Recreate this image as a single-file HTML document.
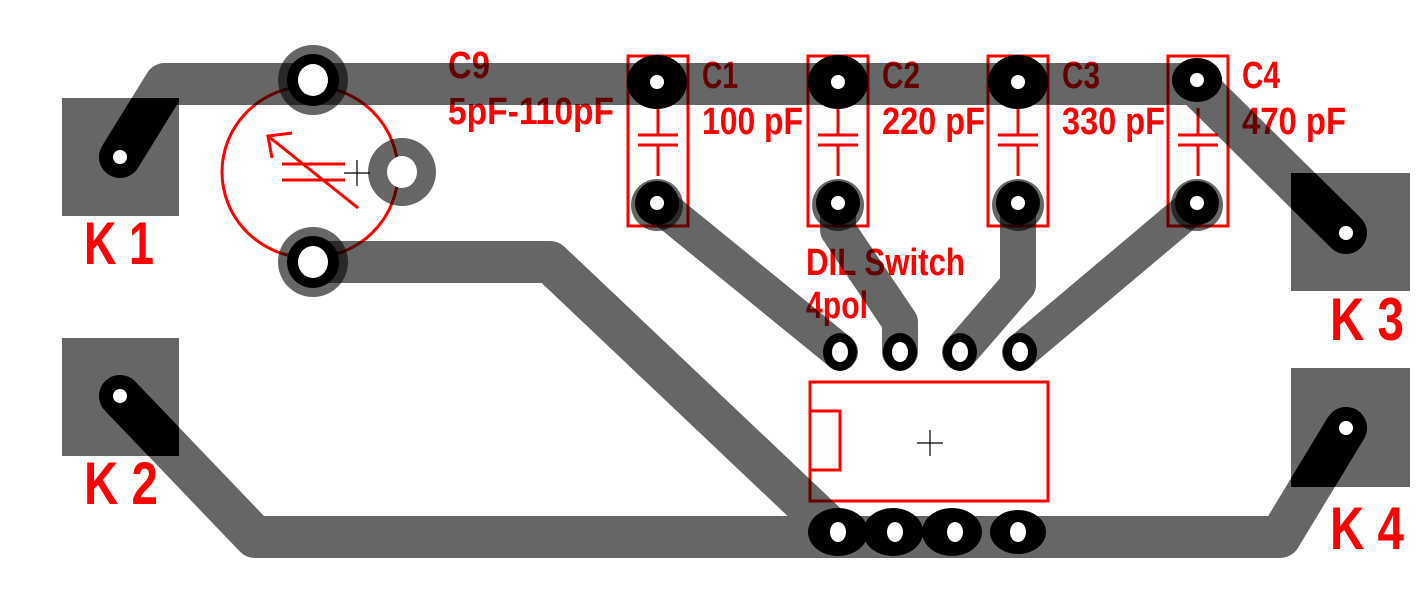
<!DOCTYPE html>
<html><head><meta charset="utf-8"><style>
html,body{margin:0;padding:0;background:#fff;}
svg{display:block}
.t{font-family:"Liberation Sans",sans-serif;font-weight:bold;fill:#f00;}
.cu{mix-blend-mode:multiply;}
</style></head><body>
<svg width="1417" height="591" viewBox="0 0 1417 591" xmlns="http://www.w3.org/2000/svg">
<defs>
<clipPath id="k1"><rect x="62" y="98" width="117" height="118"/></clipPath>
<clipPath id="k2"><rect x="62" y="338" width="117" height="118"/></clipPath>
<clipPath id="k3"><rect x="1291" y="173" width="119" height="118"/></clipPath>
<clipPath id="k4"><rect x="1291" y="368" width="119" height="119"/></clipPath>
</defs>
<!-- red silkscreen -->
<g fill="none" stroke="#f00" stroke-width="3">
<ellipse cx="310" cy="172" rx="88" ry="86"/>
<line x1="268" y1="136" x2="358" y2="208"/>
<polyline points="292,133 268,136 272,158"/>
<line x1="282" y1="164" x2="345" y2="164"/>
<line x1="282" y1="180" x2="345" y2="180"/>
<rect x="628" y="56" width="60" height="170"/>
<rect x="808" y="56" width="60" height="170"/>
<rect x="988" y="56" width="60" height="170"/>
<rect x="1168" y="56" width="60" height="170"/>
<g id="cap">
<line x1="658" y1="108" x2="658" y2="135"/><line x1="638" y1="135" x2="678" y2="135"/>
<line x1="638" y1="145" x2="678" y2="145"/><line x1="658" y1="145" x2="658" y2="176"/>
</g>
<use href="#cap" x="180"/><use href="#cap" x="360"/><use href="#cap" x="540"/>
<rect x="810" y="382" width="238" height="119"/>
<rect x="810" y="411" width="30" height="59"/>
</g>
<g stroke="#000" stroke-width="1.2">
<line x1="344" y1="173" x2="370" y2="173"/><line x1="357" y1="160" x2="357" y2="186"/>
<line x1="917" y1="443" x2="943" y2="443"/><line x1="930" y1="430" x2="930" y2="456"/>
</g>
<text class="t" x="448" y="78" font-size="38" textLength="42" lengthAdjust="spacingAndGlyphs">C9</text>
<text class="t" x="448" y="124" font-size="38" textLength="166" lengthAdjust="spacingAndGlyphs">5pF-110pF</text>
<text class="t" x="702" y="88" font-size="38" textLength="36" lengthAdjust="spacingAndGlyphs">C1</text>
<text class="t" x="702" y="134" font-size="38" textLength="101" lengthAdjust="spacingAndGlyphs">100 pF</text>
<text class="t" x="882" y="88" font-size="38" textLength="38" lengthAdjust="spacingAndGlyphs">C2</text>
<text class="t" x="882" y="134" font-size="38" textLength="103" lengthAdjust="spacingAndGlyphs">220 pF</text>
<text class="t" x="1062" y="88" font-size="38" textLength="38" lengthAdjust="spacingAndGlyphs">C3</text>
<text class="t" x="1062" y="134" font-size="38" textLength="103" lengthAdjust="spacingAndGlyphs">330 pF</text>
<text class="t" x="1242" y="88" font-size="38" textLength="38" lengthAdjust="spacingAndGlyphs">C4</text>
<text class="t" x="1242" y="134" font-size="38" textLength="104" lengthAdjust="spacingAndGlyphs">470 pF</text>
<text class="t" x="806" y="275" font-size="38" textLength="159" lengthAdjust="spacingAndGlyphs">DIL Switch</text>
<text class="t" x="806" y="318" font-size="38" textLength="62" lengthAdjust="spacingAndGlyphs">4pol</text>
<text class="t" x="84" y="264" font-size="60" textLength="70" lengthAdjust="spacingAndGlyphs">K 1</text>
<text class="t" x="84" y="504" font-size="60" textLength="74" lengthAdjust="spacingAndGlyphs">K 2</text>
<text class="t" x="1330" y="340" font-size="60" textLength="74" lengthAdjust="spacingAndGlyphs">K 3</text>
<text class="t" x="1330" y="549" font-size="60" textLength="74" lengthAdjust="spacingAndGlyphs">K 4</text>
<!-- copper -->
<g class="cu" fill="#666">
<rect x="62" y="98" width="117" height="118"/>
<rect x="62" y="338" width="117" height="118"/>
<rect x="1291" y="173" width="119" height="118"/>
<rect x="1291" y="368" width="119" height="119"/>
</g>
<g class="cu" fill="none" stroke="#666" stroke-linecap="round" stroke-linejoin="round" stroke-width="42">
<polyline points="120,157 165,84 1195,84 1346,233"/>
<polyline points="313,262 550,262 835,532"/>
<polyline points="120,396 255,537 1280,537 1346,428"/>
</g>
<g class="cu" fill="none" stroke="#666" stroke-linecap="round" stroke-linejoin="round" stroke-width="36">
<polyline points="657,203 840,352"/>
<polyline points="838,203 838,230 900,322 900,352"/>
<polyline points="1018,203 1018,285 960,352"/>
<polyline points="1197,203 1020,352"/>
</g>
<g class="cu" fill="#666">
<circle cx="313" cy="80" r="35"/><circle cx="402" cy="172" r="34"/><circle cx="313" cy="262" r="35"/>
<circle cx="657" cy="205" r="26"/><circle cx="838" cy="205" r="26"/><circle cx="1018" cy="205" r="26"/><circle cx="1197" cy="205" r="26"/>
</g>
<!-- black pads/rings -->
<g fill="#000">
<path clip-path="url(#k1)" d="M120,157 L165,84" stroke="#000" stroke-width="42" stroke-linecap="round"/>
<path clip-path="url(#k2)" d="M120,396 L255,537" stroke="#000" stroke-width="42" stroke-linecap="round"/>
<path clip-path="url(#k4)" d="M1346,428 L1280,537" stroke="#000" stroke-width="42" stroke-linecap="round"/>
<path clip-path="url(#k3)" d="M1346,233 L1195,84" stroke="#000" stroke-width="42" stroke-linecap="round"/>
<circle cx="313" cy="80" r="26"/><circle cx="313" cy="262" r="26"/>
<ellipse cx="657" cy="82" rx="30" ry="27"/><ellipse cx="838" cy="82" rx="30" ry="27"/><ellipse cx="1018" cy="82" rx="30" ry="27"/><ellipse cx="1197" cy="80" rx="25" ry="22"/>
<circle cx="657" cy="203" r="22"/><circle cx="838" cy="203" r="22"/><circle cx="1018" cy="203" r="22"/><circle cx="1197" cy="203" r="22"/>
<ellipse cx="840" cy="352" rx="17" ry="19"/><ellipse cx="900" cy="352" rx="17" ry="19"/><ellipse cx="960" cy="352" rx="17" ry="19"/><ellipse cx="1020" cy="352" rx="17" ry="19"/>
<ellipse cx="838" cy="532" rx="30" ry="24"/><ellipse cx="893" cy="532" rx="30" ry="24"/><ellipse cx="952" cy="532" rx="30" ry="24"/><ellipse cx="1018" cy="532" rx="28" ry="22"/>
</g>
<g fill="#fff">
<circle cx="120" cy="157" r="7"/><circle cx="120" cy="396" r="7"/><circle cx="1346" cy="233" r="7"/><circle cx="1346" cy="428" r="7"/>
<ellipse cx="313" cy="80" rx="15" ry="16"/><ellipse cx="402" cy="172" rx="15" ry="16"/><ellipse cx="313" cy="262" rx="15" ry="16"/>
<circle cx="657" cy="82" r="7"/><circle cx="838" cy="82" r="7"/><circle cx="1018" cy="82" r="7"/><circle cx="1197" cy="80" r="7"/>
<circle cx="657" cy="203" r="7"/><circle cx="838" cy="203" r="7"/><circle cx="1018" cy="203" r="7"/><circle cx="1197" cy="203" r="7"/>
<ellipse cx="840" cy="352" rx="8" ry="10"/><ellipse cx="900" cy="352" rx="8" ry="10"/><ellipse cx="960" cy="352" rx="8" ry="10"/><ellipse cx="1020" cy="352" rx="8" ry="10"/>
<ellipse cx="838" cy="532" rx="8" ry="10"/><ellipse cx="895" cy="532" rx="8" ry="10"/><ellipse cx="955" cy="532" rx="8" ry="10"/><ellipse cx="1018" cy="532" rx="8" ry="10"/>
</g>
</svg>
</body></html>
